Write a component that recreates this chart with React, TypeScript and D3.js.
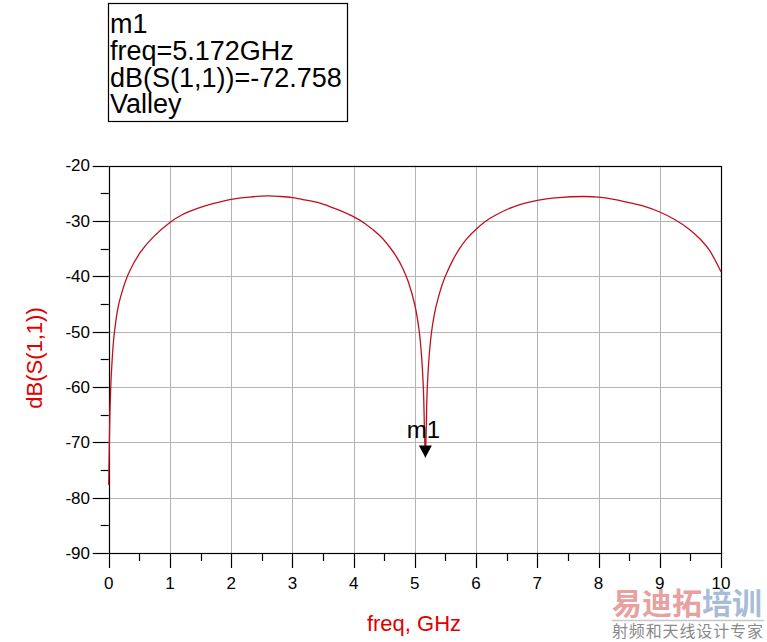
import { useEffect, useRef } from 'react';
import * as d3 from 'd3';

// S11 trace (GHz, dB)
const freqGHz = [
  0, 0.01, 0.02, 0.035, 0.05, 0.075, 0.1, 0.15, 0.2, 0.32, 0.51, 0.73, 1.0, 1.2, 1.44, 1.7, 2.0, 2.3, 2.6,
  2.8, 3.0, 3.2, 3.45, 3.7, 3.99, 4.2, 4.43, 4.6, 4.7, 4.8, 4.89, 5.0, 5.07, 5.11, 5.14, 5.172,
  5.2, 5.23, 5.27, 5.32, 5.38, 5.45, 5.51, 5.62, 5.73, 5.85, 6.0, 6.15, 6.33, 6.6, 7.0, 7.35, 7.75,
  8.0, 8.25, 8.5, 8.75, 9.0, 9.25, 9.48, 9.65, 9.81, 10,
];
const s11dB = [
  -77.7, -70.5, -64.5, -59.5, -56.3, -52.2, -49.5, -45.8, -43.5, -39.6, -35.8, -32.9, -30.3, -28.9, -27.8, -26.9, -26.1, -25.7, -25.5,
  -25.6, -25.8, -26.2, -26.8, -27.8, -29.2, -30.6, -32.7, -34.9, -36.5, -38.5, -40.9, -45.2, -49.8, -54.5, -60.5, -72.758,
  -61, -55, -50.3, -46.8, -44, -41.4, -39.7, -37.1, -35.0, -33.2, -31.5, -30.1, -28.9, -27.5, -26.3, -25.8, -25.6,
  -25.7, -26.1, -26.7, -27.4, -28.4, -29.8, -31.5, -33.2, -35.3, -39.2,
];

const xTicks = [0, 1, 2, 3, 4, 5, 6, 7, 8, 9, 10];
const xMinorTicks = [0.5, 1.5, 2.5, 3.5, 4.5, 5.5, 6.5, 7.5, 8.5, 9.5];
const yTicks = [-90, -80, -70, -60, -50, -40, -30, -20];
const yMinorTicks = [-85, -75, -65, -55, -45, -35, -25];

const markerName = 'm1';
const markerFreq = 5.172;
const markerValue = -72.758;
const markerLines = ['m1', 'freq=5.172GHz', 'dB(S(1,1))=-72.758', 'Valley'];

const FONT = '"Liberation Sans", Arial, sans-serif';

export default function App() {
  const svgRef = useRef<SVGSVGElement>(null);

  useEffect(() => {
    if (!svgRef.current) return;
    const svg = d3.select(svgRef.current);
    svg.selectAll('*').remove();

    const x = d3.scaleLinear().domain([0, 10]).range([108.7, 721]);
    const y = d3.scaleLinear().domain([-90, -20]).range([553, 165.5]);
    const [x0, x1] = x.range();
    const [yb, yt] = y.range();

    // grid
    const grid = svg.append('g').attr('stroke', '#b4b4b4').attr('stroke-width', 1);
    xTicks.slice(1, -1).forEach(t => {
      grid.append('line').attr('x1', Math.round(x(t)) + 0.5).attr('x2', Math.round(x(t)) + 0.5)
        .attr('y1', yt).attr('y2', yb);
    });
    yTicks.slice(1, -1).forEach(t => {
      grid.append('line').attr('y1', Math.round(y(t)) + 0.5).attr('y2', Math.round(y(t)) + 0.5)
        .attr('x1', x0).attr('x2', x1);
    });

    // frame
    const frame = svg.append('g').attr('stroke', '#000').attr('stroke-width', 1.2).attr('fill', 'none');
    frame.append('rect').attr('x', Math.round(x0) + 0.5).attr('y', Math.round(yt) + 0.5)
      .attr('width', Math.round(x1) - Math.round(x0)).attr('height', Math.round(yb) - Math.round(yt));

    // left ticks
    yTicks.forEach(t => {
      frame.append('line').attr('x1', x0 - 16).attr('x2', x0).attr('y1', Math.round(y(t)) + 0.5).attr('y2', Math.round(y(t)) + 0.5);
    });
    yMinorTicks.forEach(t => {
      frame.append('line').attr('x1', x0 - 8).attr('x2', x0).attr('y1', Math.round(y(t)) + 0.5).attr('y2', Math.round(y(t)) + 0.5);
    });
    // bottom ticks
    xTicks.forEach(t => {
      frame.append('line').attr('x1', Math.round(x(t)) + 0.5).attr('x2', Math.round(x(t)) + 0.5).attr('y1', yb).attr('y2', yb + 15);
    });
    xMinorTicks.forEach(t => {
      frame.append('line').attr('x1', Math.round(x(t)) + 0.5).attr('x2', Math.round(x(t)) + 0.5).attr('y1', yb).attr('y2', yb + 8);
    });

    // tick labels
    yTicks.forEach(t => {
      svg.append('text').attr('x', 90).attr('y', y(t)).attr('dy', '0.35em')
        .attr('text-anchor', 'end').style('font-family', FONT).style('font-size', '17px')
        .text(String(t));
    });
    xTicks.forEach(t => {
      svg.append('text').attr('x', x(t)).attr('y', 589)
        .attr('text-anchor', 'middle').style('font-family', FONT).style('font-size', '17px')
        .text(String(t));
    });

    // axis titles
    svg.append('text').attr('transform', 'translate(42,358) rotate(-90)')
      .attr('text-anchor', 'middle').style('font-family', FONT).style('font-size', '22px')
      .attr('fill', '#e00000').text('dB(S(1,1))');
    svg.append('text').attr('x', 414).attr('y', 631)
      .attr('text-anchor', 'middle').style('font-family', FONT).style('font-size', '22px')
      .attr('fill', '#e00000').text('freq, GHz');

    // trace
    const pts: [number, number][] = freqGHz.map((f, i) => [f, s11dB[i]]);
    const line = d3.line<[number, number]>()
      .x(d => x(d[0]))
      .y(d => y(d[1]))
      .curve(d3.curveCatmullRom.alpha(0.5));
    svg.append('path').datum(pts).attr('d', line)
      .attr('fill', 'none').attr('stroke', '#c0101c').attr('stroke-width', 1.3);

    // marker
    const mx = x(markerFreq);
    const my = y(markerValue);
    svg.append('path')
      .attr('d', `M${mx},${my} L${mx - 6.5},${my - 12} L${mx + 6.5},${my - 12} Z`)
      .attr('fill', '#000');
    svg.append('text').attr('x', mx - 2).attr('y', my - 20).attr('text-anchor', 'middle')
      .style('font-family', FONT).style('font-size', '24px').text(markerName);

    // marker readout box
    svg.append('rect').attr('x', 108.5).attr('y', 3.5).attr('width', 239).attr('height', 118)
      .attr('fill', 'none').attr('stroke', '#000').attr('stroke-width', 1.2);
    const baselines = [33, 60, 87, 113];
    markerLines.forEach((s, i) => {
      svg.append('text').attr('x', 110).attr('y', baselines[i])
        .style('font-family', FONT).style('font-size', '27px').text(s);
    });

    // watermark
    svg.append('text').attr('x', 612).attr('y', 614)
      .style('font-family', '"Noto Sans CJK SC", sans-serif').style('font-size', '30px').style('font-weight', 'bold')
      .attr('fill', '#e8a0a0').text('易迪拓');
    svg.append('text').attr('x', 702).attr('y', 614)
      .style('font-family', '"Noto Sans CJK SC", sans-serif').style('font-size', '30px').style('font-weight', 'bold')
      .attr('fill', '#a8bcd8').text('培训');
    svg.append('line').attr('x1', 612).attr('x2', 764).attr('y1', 620.5).attr('y2', 620.5)
      .attr('stroke', '#c8c8c8').attr('stroke-width', 1.5);
    svg.append('text').attr('x', 612).attr('y', 637).attr('textLength', 151)
      .style('font-family', '"Noto Sans CJK SC", sans-serif').style('font-size', '16px')
      .attr('fill', '#8a8a8a').text('射频和天线设计专家');
  }, []);

  return (
    <svg ref={svgRef} width={767} height={642}
      style={{ position: 'absolute', left: 0, top: 0, background: '#fff' }} />
  );
}
